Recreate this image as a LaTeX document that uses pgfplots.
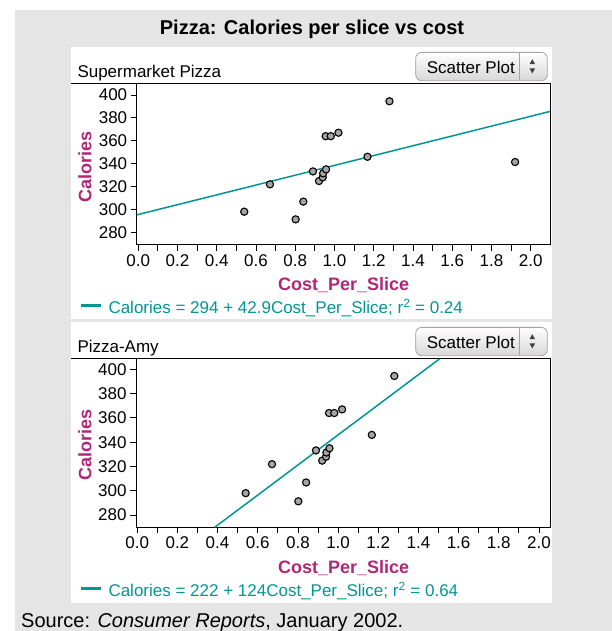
\documentclass[border=0pt]{standalone}
\usepackage{pgfplots}
\pgfplotsset{compat=1.18}
\usepackage{fontspec}
\setmainfont{Liberation Sans}
\definecolor{bggray}{RGB}{229,229,229}
\definecolor{tealc}{RGB}{0,150,150}
\definecolor{magc}{RGB}{178,38,120}
\definecolor{ptgray}{RGB}{165,165,165}
\definecolor{btngray}{RGB}{215,215,215}
\definecolor{btnborder}{RGB}{175,160,160}
\pgfplotstableread{
x y
0.54 298
0.671 321.9
0.802 291.3
0.841 306.8
0.890 333.2
0.921 324.8
0.940 328
0.942 331.5
0.957 335
0.955 364
0.981 364
1.020 367
1.168 346
1.280 394.5
1.920 341.4
}\supermarket
\pgfplotstableread{
x y
0.54 298
0.671 321.9
0.802 291.3
0.841 306.8
0.890 333.2
0.921 324.8
0.940 328
0.942 331.5
0.957 335
0.955 364
0.981 364
1.020 367
1.168 346
1.280 394.5
}\amy
\pgfplotsset{
  pizzaaxis/.style={
    scale only axis,
    axis line style={line width=1pt},
    tick align=outside,
    tick pos=left,
    major tick length=6pt,
    minor tick length=6pt,
    tick style={black, line width=0.8pt},
    xtick={0,0.2,0.4,0.6,0.8,1.0,1.2,1.4,1.6,1.8,2.0},
    xticklabels={0.0,0.2,0.4,0.6,0.8,1.0,1.2,1.4,1.6,1.8,2.0},
    minor xtick={0.1,0.3,0.5,0.7,0.9,1.1,1.3,1.5,1.7,1.9},
    ytick={280,300,320,340,360,380,400},
    yticklabels={280,300,320,340,360,380,400},
    every tick label/.append style={font=\fontsize{17}{20}\selectfont},
    /pgf/number format/assume math mode=true,
  },
  ptstyle/.style={only marks, mark=*, mark size=3.6pt,
      mark options={fill=ptgray, draw=black, line width=1.1pt}},
}
\begin{document}
\begin{tikzpicture}[x=1pt,y=1pt]
\path[use as bounding box] (0,0) rectangle (612,631);
\fill[white] (0,0) rectangle (612,631);
\fill[bggray] (15,0) rectangle (612,621);
\fill[white] (71,312) rectangle (552,584);
\fill[white] (71,28) rectangle (552,309);

\node[anchor=base, inner sep=0, font=\fontsize{20}{24}\selectfont\bfseries] at (312,596) {Pizza: Calories per slice vs cost};

% ---------- top panel ----------
\node[anchor=base west, inner sep=0, font=\fontsize{17}{20}\selectfont] at (77.3,553) {Supermarket Pizza};
\draw[line width=1pt] (71,547) -- (550,547);
\begin{scope}[shift={(415.7,550.3)}]
  \shade[top color=white, bottom color=btngray, rounded corners=6pt, draw=btnborder, line width=0.8pt] (0,0) rectangle (131.6,28.3);
  \draw[btnborder] (103.6,1) -- (103.6,27.3);
  \node[anchor=base west, inner sep=0, font=\fontsize{17}{20}\selectfont] at (11,7.4) {Scatter Plot};
  \fill[black!75] (113.8,16.5) -- (116.6,21.5) -- (119.4,16.5) -- cycle;
  \fill[black!75] (113.8,12.3) -- (116.6,7.3) -- (119.4,12.3) -- cycle;
\end{scope}

\begin{axis}[pizzaaxis,
  at={(136.7pt,386pt)}, anchor=south west,
  width=413.3pt, height=161pt,
  xmin=-0.008, xmax=2.098, ymin=268.9, ymax=409.6]
  \addplot[tealc, line width=1.5pt] coordinates {(-0.008,295.2) (2.098,385.6)};
  \addplot[ptstyle] table[x=x,y=y] {\supermarket};
\end{axis}

\node[rotate=90, inner sep=0, font=\fontsize{18}{21}\selectfont\bfseries, text=magc] at (85,464.3) {Calories};
\node[anchor=base, inner sep=0, font=\fontsize{18}{21}\selectfont\bfseries, text=magc] at (343.7,340.3) {Cost\_Per\_Slice};
\draw[tealc, line width=2.6pt] (80.7,325.3) -- (101,325.3);
\node[anchor=base west, inner sep=0, font=\fontsize{17}{20}\selectfont, text=tealc] at (108.3,317.7) {Calories = 294 + 42.9Cost\_Per\_Slice; r\textsuperscript{2} = 0.24};

% ---------- bottom panel ----------
\node[anchor=base west, inner sep=0, font=\fontsize{17}{20}\selectfont] at (77.3,278) {Pizza-Amy};
\draw[line width=1pt] (71,272) -- (550,272);
\begin{scope}[shift={(415.7,275.3)}]
  \shade[top color=white, bottom color=btngray, rounded corners=6pt, draw=btnborder, line width=0.8pt] (0,0) rectangle (131.6,28.3);
  \draw[btnborder] (103.6,1) -- (103.6,27.3);
  \node[anchor=base west, inner sep=0, font=\fontsize{17}{20}\selectfont] at (11,7.4) {Scatter Plot};
  \fill[black!75] (113.8,16.5) -- (116.6,21.5) -- (119.4,16.5) -- cycle;
  \fill[black!75] (113.8,12.3) -- (116.6,7.3) -- (119.4,12.3) -- cycle;
\end{scope}

\begin{axis}[pizzaaxis,
  at={(136pt,103.7pt)}, anchor=south west,
  width=414pt, height=168.3pt,
  xmin=-0.006, xmax=2.055, ymin=269.9, ymax=408.5]
  \addplot[tealc, line width=1.5pt] coordinates {(0.386,269.9) (1.504,408.5)};
  \addplot[ptstyle] table[x=x,y=y] {\amy};
\end{axis}

\node[rotate=90, inner sep=0, font=\fontsize{18}{21}\selectfont\bfseries, text=magc] at (85,186) {Calories};
\node[anchor=base, inner sep=0, font=\fontsize{18}{21}\selectfont\bfseries, text=magc] at (343.7,57) {Cost\_Per\_Slice};
\draw[tealc, line width=2.6pt] (80.7,42.7) -- (101,42.7);
\node[anchor=base west, inner sep=0, font=\fontsize{17}{20}\selectfont, text=tealc] at (108.3,34.3) {Calories = 222 + 124Cost\_Per\_Slice; r\textsuperscript{2} = 0.64};

\node[anchor=base west, inner sep=0, font=\fontsize{20}{24}\selectfont] at (21,4) {Source: \textit{Consumer Reports}, January 2002.};
\end{tikzpicture}
\end{document}
